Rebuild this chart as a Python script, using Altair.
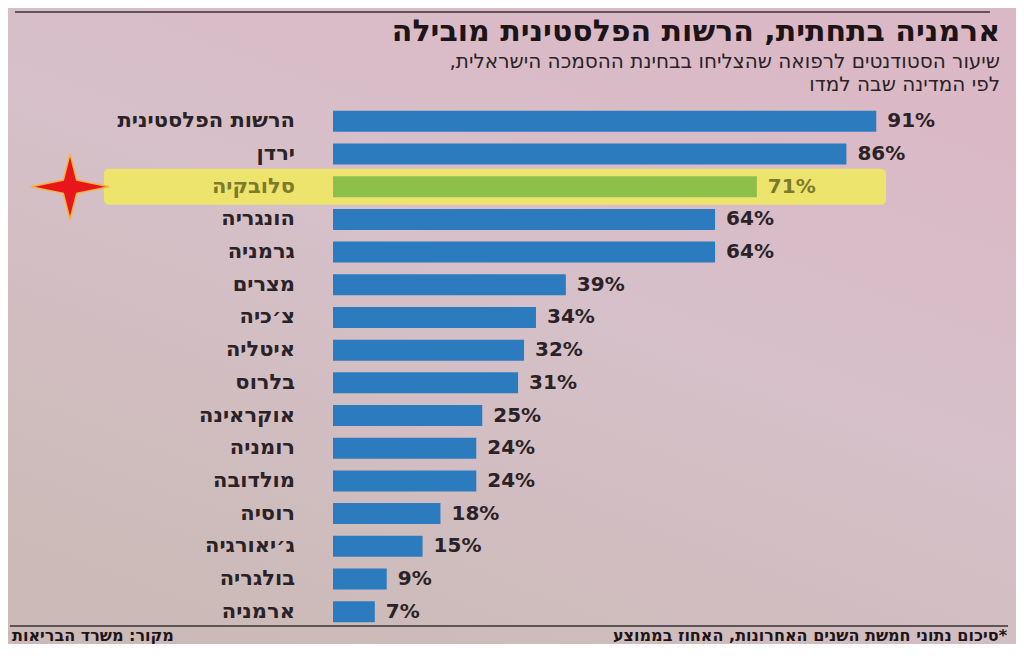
import altair as alt
import pandas as pd

# ---- data ----
countries = ["הרשות הפלסטינית", "ירדן", "סלובקיה", "הונגריה", "גרמניה", "מצרים",
             "צ׳כיה", "איטליה", "בלרוס", "אוקראינה", "רומניה", "מולדובה",
             "רוסיה", "ג׳יאורגיה", "בולגריה", "ארמניה"]
values = [91, 86, 71, 64, 64, 39, 34, 32, 31, 25, 24, 24, 18, 15, 9, 7]
highlight_country = "סלובקיה"

title_text = "ארמניה בתחתית, הרשות הפלסטינית מובילה"
subtitle_line1 = "שיעור הסטודנטים לרפואה שהצליחו בבחינת ההסמכה הישראלית,\u200f"
subtitle_line2 = "לפי המדינה שבה למדו"
footnote_text = "\u200f*סיכום נתוני חמשת השנים האחרונות, האחוז בממוצע"
source_text = "מקור: משרד הבריאות"

W, H = 1008, 636
FONT = "DejaVu Sans"

df = pd.DataFrame({"country": countries, "value": values,
                   "label": [f"{v}%" for v in values]})
one = pd.DataFrame({"k": [0]})

is_hl = alt.FieldEqualPredicate(field="country", equal=highlight_country)

y = alt.Y("country:N", sort=countries, axis=None,
          scale=alt.Scale(range=[97, 620], paddingInner=0, paddingOuter=0))
x = alt.X("value:Q", axis=None, scale=alt.Scale(domain=[0, 100], range=[325, 922]))

bg = alt.Chart(one).mark_rect(
    color=alt.LinearGradient(
        gradient="linear", x1=0.8, y1=0, x2=0.2, y2=1,
        stops=[alt.GradientStop(color="#dbb8c5", offset=0),
               alt.GradientStop(color="#d6c0c9", offset=0.45),
               alt.GradientStop(color="#cbbab7", offset=1)])
).encode(x=alt.value(0), x2=alt.value(W), y=alt.value(0), y2=alt.value(H))

band = alt.Chart(df).transform_filter(is_hl).mark_bar(
    color="#ece46c", cornerRadius=5, size=36
).encode(y=y, x=alt.value(96), x2=alt.value(878))

bars = alt.Chart(df).mark_bar(size=21).encode(
    x=x, y=y,
    color=alt.condition(is_hl, alt.value("#8dbf4b"), alt.value("#2c7bbf")))

value_labels = alt.Chart(df).mark_text(
    align="left", baseline="middle", dx=11, fontSize=20, fontWeight="bold", font=FONT
).encode(x=x, y=y, text="label:N",
         color=alt.condition(is_hl, alt.value("#7d7a2c"), alt.value("#2a2226")))

country_labels = alt.Chart(df).mark_text(
    align="right", baseline="middle", fontSize=21, fontWeight="bold", font=FONT
).encode(x=alt.value(287), y=y, text="country:N",
         color=alt.condition(is_hl, alt.value("#7d7a2c"), alt.value("#2a2226")))

star_path = ("M0,-0.84 L0.17,-0.17 L1,0 L0.17,0.17 L0,0.84 "
             "L-0.17,0.17 L-1,0 L-0.17,-0.17 Z")
star = alt.Chart(df).transform_filter(is_hl).mark_point(
    shape=star_path, filled=True, fill="#e8151b", stroke="#f3b43a",
    strokeWidth=1.5, size=6100, opacity=1
).encode(x=alt.value(62), y=y)

title = alt.Chart(one).mark_text(
    text=title_text, align="right", baseline="alphabetic", fontSize=30,
    fontWeight="bold", font=FONT, color="#1d1418"
).encode(x=alt.value(992), y=alt.value(33))

sub1 = alt.Chart(one).mark_text(
    text=subtitle_line1, align="right", baseline="alphabetic", fontSize=20,
    font=FONT, color="#2a2226"
).encode(x=alt.value(992), y=alt.value(60))

sub2 = alt.Chart(one).mark_text(
    text=subtitle_line2, align="right", baseline="alphabetic", fontSize=20,
    font=FONT, color="#2a2226"
).encode(x=alt.value(992), y=alt.value(83))

top_rule = alt.Chart(one).mark_rule(color="#3a3034", strokeWidth=1.5).encode(
    x=alt.value(7), x2=alt.value(982), y=alt.value(4))

bottom_rule = alt.Chart(one).mark_rule(color="#3a3034", strokeWidth=1.5).encode(
    x=alt.value(2), x2=alt.value(1000), y=alt.value(618))

foot_r = alt.Chart(one).mark_text(
    text=footnote_text, align="right", baseline="middle", fontSize=16,
    fontWeight="bold", font=FONT, color="#1d1418"
).encode(x=alt.value(999), y=alt.value(628))

foot_l = alt.Chart(one).mark_text(
    text=source_text, align="left", baseline="middle", fontSize=16,
    fontWeight="bold", font=FONT, color="#1d1418"
).encode(x=alt.value(4), y=alt.value(628))

chart = alt.layer(
    bg, band, bars, value_labels, country_labels, star,
    title, sub1, sub2, top_rule, bottom_rule, foot_r, foot_l
).properties(
    width=W, height=H, padding=0,
    autosize=alt.AutoSizeParams(type="none")
).configure_view(stroke=None).configure(background="#d6c2c6")

chart.save("out.html", embed_options={"renderer": "svg", "actions": False})
